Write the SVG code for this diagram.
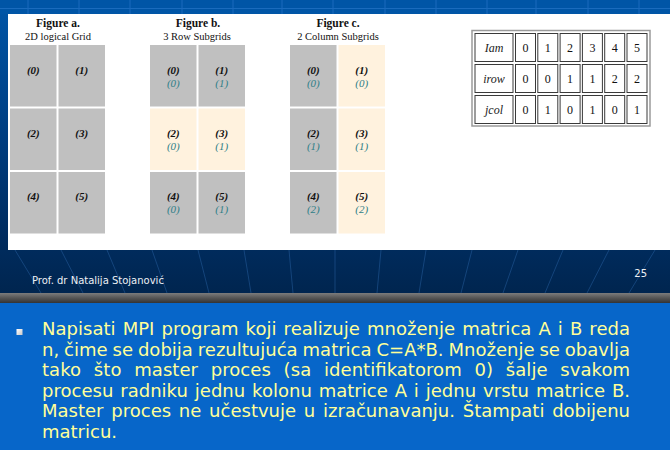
<svg xmlns="http://www.w3.org/2000/svg" width="670" height="450" viewBox="0 0 670 450">
  <defs>
    <linearGradient id="sideGrad" x1="0" y1="0" x2="0" y2="1">
      <stop offset="0" stop-color="#0056a8"/>
      <stop offset="0.55" stop-color="#003d80"/>
      <stop offset="1" stop-color="#00295a"/>
    </linearGradient>
    <linearGradient id="footGrad" x1="0" y1="0" x2="0" y2="1">
      <stop offset="0" stop-color="#002b5c"/>
      <stop offset="1" stop-color="#00254f"/>
    </linearGradient>
    <linearGradient id="barGrad" x1="0" y1="0" x2="0" y2="1">
      <stop offset="0" stop-color="#7c7c7c"/>
      <stop offset="0.5" stop-color="#555"/>
      <stop offset="1" stop-color="#333"/>
    </linearGradient>
    <linearGradient id="bulletGrad" x1="0" y1="0" x2="1" y2="1">
      <stop offset="0" stop-color="#ffffff"/>
      <stop offset="1" stop-color="#c8c8c8"/>
    </linearGradient>
  </defs>
  <style>
    .fig-title { font-family: "Liberation Serif", serif; font-weight: bold; font-size: 11.5px; fill: #111; text-anchor: middle; }
    .fig-sub { font-family: "Liberation Serif", serif; font-size: 10.5px; fill: #111; text-anchor: middle; }
    .gray { fill: #c0c0c0; }
    .cream { fill: #fff2de; }
    .rank { font-family: "Liberation Serif", serif; font-style: italic; font-weight: bold; font-size: 11px; fill: #111; text-anchor: middle; }
    .sub { font-family: "Liberation Serif", serif; font-style: italic; font-size: 11px; fill: #2f7f88; text-anchor: middle; }
    .tcell { fill: #fff; stroke: #3a3a3a; stroke-width: 1; }
    .tlabel { font-family: "Liberation Serif", serif; font-style: italic; font-size: 12px; fill: #222; text-anchor: middle; }
    .tnum { font-family: "Liberation Serif", serif; font-size: 12px; fill: #111; text-anchor: middle; }
    .body { font-family: "DejaVu Sans", Verdana, sans-serif; font-size: 18px; fill: #ffff99; }
    .foot { font-family: "DejaVu Sans", sans-serif; font-size: 10px; fill: #eef0f4; }
    .ray { stroke: #2b64a6; stroke-width: 0.8; opacity: 0.6; }
    .grid { stroke: #1a6bbd; stroke-width: 1; }
  </style>

  <!-- slide background -->
  <rect x="0" y="0" width="670" height="250" fill="url(#sideGrad)"/>
  <rect x="0" y="0" width="670" height="14" fill="#0055a6"/>
  <g id="top-grid">
    <line class="grid" x1="0" y1="8.5" x2="670" y2="8.5"/>
    <path class="grid" d="M28 0V14M79 0V14M130 0V14M182 0V14M233 0V14M282 0V14M333 0V14M385 0V14M436 0V14M487 0V14M536 0V14M588 0V14M639 0V14"/>
  </g>

  <!-- white content panel -->
  <rect x="8" y="14" width="662" height="236" fill="#ffffff"/>

  <!-- figure headings -->
  <g id="headings">
    <text class="fig-title" x="58" y="27">Figure a.</text>
    <text class="fig-sub" x="58" y="40">2D logical Grid</text>
    <text class="fig-title" x="198" y="27">Figure b.</text>
    <text class="fig-sub" x="197" y="40">3 Row Subgrids</text>
    <text class="fig-title" x="338" y="27">Figure c.</text>
    <text class="fig-sub" x="338" y="40">2 Column Subgrids</text>
  </g>

  <!-- Figure a: 2D logical grid -->
  <g id="fig-a">
    <g id="a0"><rect class="gray" x="10" y="45" width="46.5" height="61.5"/><text class="rank" x="33.3" y="74">(0)</text></g>
    <g id="a1"><rect class="gray" x="58.5" y="45" width="46.5" height="61.5"/><text class="rank" x="81.7" y="74">(1)</text></g>
    <g id="a2"><rect class="gray" x="10" y="108.5" width="46.5" height="61.5"/><text class="rank" x="33.3" y="137">(2)</text></g>
    <g id="a3"><rect class="gray" x="58.5" y="108.5" width="46.5" height="61.5"/><text class="rank" x="81.7" y="137">(3)</text></g>
    <g id="a4"><rect class="gray" x="10" y="172" width="46.5" height="61.5"/><text class="rank" x="33.3" y="200">(4)</text></g>
    <g id="a5"><rect class="gray" x="58.5" y="172" width="46.5" height="61.5"/><text class="rank" x="81.7" y="200">(5)</text></g>
  </g>

  <!-- Figure b: row subgrids -->
  <g id="fig-b">
    <g id="b0"><rect class="gray" x="150" y="45" width="46.5" height="61.5"/><text class="rank" x="173.3" y="74">(0)</text><text class="sub" x="173.3" y="87">(0)</text></g>
    <g id="b1"><rect class="gray" x="198.5" y="45" width="46.5" height="61.5"/><text class="rank" x="221.7" y="74">(1)</text><text class="sub" x="221.7" y="87">(1)</text></g>
    <g id="b2"><rect class="cream" x="150" y="108.5" width="46.5" height="61.5"/><text class="rank" x="173.3" y="137">(2)</text><text class="sub" x="173.3" y="150">(0)</text></g>
    <g id="b3"><rect class="cream" x="198.5" y="108.5" width="46.5" height="61.5"/><text class="rank" x="221.7" y="137">(3)</text><text class="sub" x="221.7" y="150">(1)</text></g>
    <g id="b4"><rect class="gray" x="150" y="172" width="46.5" height="61.5"/><text class="rank" x="173.3" y="200">(4)</text><text class="sub" x="173.3" y="213">(0)</text></g>
    <g id="b5"><rect class="gray" x="198.5" y="172" width="46.5" height="61.5"/><text class="rank" x="221.7" y="200">(5)</text><text class="sub" x="221.7" y="213">(1)</text></g>
  </g>

  <!-- Figure c: column subgrids -->
  <g id="fig-c">
    <g id="c0"><rect class="gray" x="290" y="45" width="46.5" height="61.5"/><text class="rank" x="313.3" y="74">(0)</text><text class="sub" x="313.3" y="87">(0)</text></g>
    <g id="c1"><rect class="cream" x="338.5" y="45" width="46.5" height="61.5"/><text class="rank" x="361.7" y="74">(1)</text><text class="sub" x="361.7" y="87">(0)</text></g>
    <g id="c2"><rect class="gray" x="290" y="108.5" width="46.5" height="61.5"/><text class="rank" x="313.3" y="137">(2)</text><text class="sub" x="313.3" y="150">(1)</text></g>
    <g id="c3"><rect class="cream" x="338.5" y="108.5" width="46.5" height="61.5"/><text class="rank" x="361.7" y="137">(3)</text><text class="sub" x="361.7" y="150">(1)</text></g>
    <g id="c4"><rect class="gray" x="290" y="172" width="46.5" height="61.5"/><text class="rank" x="313.3" y="200">(4)</text><text class="sub" x="313.3" y="213">(2)</text></g>
    <g id="c5"><rect class="cream" x="338.5" y="172" width="46.5" height="61.5"/><text class="rank" x="361.7" y="200">(5)</text><text class="sub" x="361.7" y="213">(2)</text></g>
  </g>

  <!-- rank / row / column table -->
  <g id="rank-table">
    <rect x="472" y="30.5" width="178" height="95.5" fill="#fff" stroke="#9a9a9a" stroke-width="1.5"/>
    <g id="row-iam">
      <rect class="tcell" x="475" y="33.5" width="38" height="28"/><text class="tlabel" x="494" y="51.5">Iam</text>
      <rect class="tcell" x="515.5" y="33.5" width="20" height="28"/><text class="tnum" x="525.5" y="51.5">0</text>
      <rect class="tcell" x="537.8" y="33.5" width="20" height="28"/><text class="tnum" x="547.8" y="51.5">1</text>
      <rect class="tcell" x="560.1" y="33.5" width="20" height="28"/><text class="tnum" x="570.1" y="51.5">2</text>
      <rect class="tcell" x="582.4" y="33.5" width="20" height="28"/><text class="tnum" x="592.4" y="51.5">3</text>
      <rect class="tcell" x="604.7" y="33.5" width="20" height="28"/><text class="tnum" x="614.7" y="51.5">4</text>
      <rect class="tcell" x="627" y="33.5" width="20" height="28"/><text class="tnum" x="637" y="51.5">5</text>
    </g>
    <g id="row-irow">
      <rect class="tcell" x="475" y="64.5" width="38" height="28"/><text class="tlabel" x="494" y="83">irow</text>
      <rect class="tcell" x="515.5" y="64.5" width="20" height="28"/><text class="tnum" x="525.5" y="83">0</text>
      <rect class="tcell" x="537.8" y="64.5" width="20" height="28"/><text class="tnum" x="547.8" y="83">0</text>
      <rect class="tcell" x="560.1" y="64.5" width="20" height="28"/><text class="tnum" x="570.1" y="83">1</text>
      <rect class="tcell" x="582.4" y="64.5" width="20" height="28"/><text class="tnum" x="592.4" y="83">1</text>
      <rect class="tcell" x="604.7" y="64.5" width="20" height="28"/><text class="tnum" x="614.7" y="83">2</text>
      <rect class="tcell" x="627" y="64.5" width="20" height="28"/><text class="tnum" x="637" y="83">2</text>
    </g>
    <g id="row-jcol">
      <rect class="tcell" x="475" y="95.5" width="38" height="28"/><text class="tlabel" x="494" y="114">jcol</text>
      <rect class="tcell" x="515.5" y="95.5" width="20" height="28"/><text class="tnum" x="525.5" y="114">0</text>
      <rect class="tcell" x="537.8" y="95.5" width="20" height="28"/><text class="tnum" x="547.8" y="114">1</text>
      <rect class="tcell" x="560.1" y="95.5" width="20" height="28"/><text class="tnum" x="570.1" y="114">0</text>
      <rect class="tcell" x="582.4" y="95.5" width="20" height="28"/><text class="tnum" x="592.4" y="114">1</text>
      <rect class="tcell" x="604.7" y="95.5" width="20" height="28"/><text class="tnum" x="614.7" y="114">0</text>
      <rect class="tcell" x="627" y="95.5" width="20" height="28"/><text class="tnum" x="637" y="114">1</text>
    </g>
  </g>

  <!-- footer band with perspective rays -->
  <rect x="0" y="250" width="670" height="43" fill="url(#footGrad)"/>
  <g id="rays">
    <line class="ray" x1="-31" y1="250" x2="-1" y2="293"/>
    <line class="ray" x1="15" y1="250" x2="41" y2="293"/>
    <line class="ray" x1="61" y1="250" x2="83" y2="293"/>
    <line class="ray" x1="107" y1="250" x2="125" y2="293"/>
    <line class="ray" x1="152" y1="250" x2="167" y2="293"/>
    <line class="ray" x1="198" y1="250" x2="209" y2="293"/>
    <line class="ray" x1="244" y1="250" x2="251" y2="293"/>
    <line class="ray" x1="289" y1="250" x2="293" y2="293"/>
    <line class="ray" x1="335" y1="250" x2="335" y2="293"/>
    <line class="ray" x1="381" y1="250" x2="377" y2="293"/>
    <line class="ray" x1="426" y1="250" x2="419" y2="293"/>
    <line class="ray" x1="472" y1="250" x2="461" y2="293"/>
    <line class="ray" x1="518" y1="250" x2="503" y2="293"/>
    <line class="ray" x1="563" y1="250" x2="545" y2="293"/>
    <line class="ray" x1="609" y1="250" x2="587" y2="293"/>
    <line class="ray" x1="655" y1="250" x2="629" y2="293"/>
    <line class="ray" x1="701" y1="250" x2="671" y2="293"/>
  </g>
  <text class="foot" x="32" y="284">Prof. dr Natalija Stojanović</text>
  <text class="foot" x="647" y="277" font-size="11" text-anchor="end">25</text>

  <!-- separator bar and task panel -->
  <rect x="0" y="293" width="670" height="10" fill="url(#barGrad)"/>
  <rect x="0" y="303" width="670" height="147" fill="#0766c9"/>
  <rect x="16.5" y="329" width="6" height="6" fill="url(#bulletGrad)"/>
  <g id="task-text" class="body">
    <text x="42" y="335" word-spacing="1.3" textLength="588" lengthAdjust="spacing">Napisati MPI program koji realizuje množenje matrica A i B reda</text>
    <text x="42" y="355.5" word-spacing="-0.8" textLength="588" lengthAdjust="spacing">n, čime se dobija rezultujuća matrica C=A*B. Množenje se obavlja</text>
    <text x="42" y="376" word-spacing="7" textLength="588" lengthAdjust="spacing">tako što master proces (sa identifikatorom 0) šalje svakom</text>
    <text x="42" y="396.5" word-spacing="1.1" textLength="588" lengthAdjust="spacing">procesu radniku jednu kolonu matrice A i jednu vrstu matrice B.</text>
    <text x="42" y="417" word-spacing="2" textLength="588" lengthAdjust="spacing">Master proces ne učestvuje u izračunavanju. Štampati dobijenu</text>
    <text x="42" y="437.5">matricu.</text>
  </g>
</svg>
